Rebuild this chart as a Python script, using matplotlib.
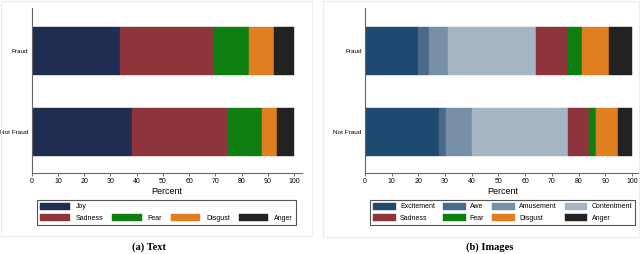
import matplotlib
matplotlib.use('Agg')
import matplotlib.pyplot as plt
import matplotlib.patches as mpatches
import numpy as np

groups = ['Not Fraud', 'Fraud']

# text panel (percent shares, bottom row first)
text_labels = ['Joy', 'Sadness', 'Fear', 'Disgust', 'Anger']
text_colors = ['#1f2d52', '#8e353b', '#107f12', '#e07f22', '#222222']
text_vals = {
    'Joy':     [38.3, 33.6],
    'Sadness': [36.4, 36.0],
    'Fear':    [12.9, 13.3],
    'Disgust': [6.0, 9.3],
    'Anger':   [6.4, 7.8],
}

# image panel
img_labels = ['Excitement', 'Awe', 'Amusement', 'Contentment',
              'Sadness', 'Fear', 'Disgust', 'Anger']
img_colors = ['#1d4a6e', '#4a6a8a', '#7790a8', '#a5b5c4',
              '#8e353b', '#107f12', '#e07f22', '#222222']
img_vals = {
    'Excitement':  [27.7, 19.9],
    'Awe':         [2.6, 4.1],
    'Amusement':   [9.7, 7.0],
    'Contentment': [35.9, 33.2],
    'Sadness':     [8.0, 11.8],
    'Fear':        [2.7, 5.3],
    'Disgust':     [8.0, 10.0],
    'Anger':       [5.4, 8.7],
}

plt.rcParams['font.family'] = ['Liberation Sans', 'DejaVu Sans']

fig = plt.figure(figsize=(6.4, 2.54), dpi=100)
W, H = 640.0, 254.0


def fx(px):
    return px / W


def fy(py):
    return 1 - py / H


# faint panel frames
for x0, x1, y1 in [(1, 312, 236), (323, 639, 237)]:
    fig.patches.append(mpatches.Rectangle((fx(x0), fy(y1)), fx(x1 - x0), (y1 - 1) / H,
                                          transform=fig.transFigure, fill=False,
                                          edgecolor='#ececec', linewidth=0.8))


def draw_panel(ax, labels, colors, vals):
    y = np.arange(len(groups))
    left = np.zeros(len(groups))
    handles = []
    for lab, col in zip(labels, colors):
        v = np.array(vals[lab])
        b = ax.barh(y, v, left=left, height=0.59, color=col, edgecolor=col,
                    linewidth=0.3, label=lab)
        handles.append(b)
        left += v
    ax.set_xlim(0, 103)
    ax.set_ylim(-0.51, 1.53)
    ax.set_yticks(y)
    ax.set_yticklabels(groups, fontsize=4.6)
    ax.set_xticks(np.arange(0, 101, 10))
    ax.tick_params(axis='x', labelsize=5, length=2, width=0.6, color='#555555', pad=1.5)
    ax.tick_params(axis='y', length=0, pad=2.5)
    for s in ['top', 'right']:
        ax.spines[s].set_visible(False)
    for s in ['left', 'bottom']:
        ax.spines[s].set_color('#666666')
        ax.spines[s].set_linewidth(0.8)
    ax.set_xlabel('Percent', fontsize=6.5, labelpad=1)
    return handles


ax1 = fig.add_axes([fx(31.7), fy(173.3), fx(301.9 - 31.7), (173.3 - 8) / H])
h1 = draw_panel(ax1, text_labels, text_colors, text_vals)

ax2 = fig.add_axes([fx(365), fy(173.3), fx(640 - 365), (173.3 - 8) / H])
h2 = draw_panel(ax2, img_labels, img_colors, img_vals)

blank = mpatches.Patch(color='none', label='')
order1 = [h1[0], h1[1], blank, h1[2], blank, h1[3], blank, h1[4]]
labs1 = ['Joy', 'Sadness', '', 'Fear', '', 'Disgust', '', 'Anger']
leg1 = fig.legend(order1, labs1, ncol=4, mode='expand', loc='center',
                  bbox_to_anchor=(fx(34), fy(225.7), fx(299 - 34), 27 / H),
                  fontsize=5, handlelength=4.3, handleheight=1.15, labelspacing=0.5,
                  handletextpad=0.8, borderpad=0.4, fancybox=False,
                  edgecolor='#555555', framealpha=1)
leg1.get_frame().set_linewidth(0.8)

order2 = [h2[0], h2[4], h2[1], h2[5], h2[2], h2[6], h2[3], h2[7]]
labs2 = [img_labels[i] for i in [0, 4, 1, 5, 2, 6, 3, 7]]
leg2 = fig.legend(order2, labs2, ncol=4, mode='expand', loc='center',
                  bbox_to_anchor=(fx(368), fy(225.7), fx(637 - 368), 27 / H),
                  fontsize=5, handlelength=3.3, handleheight=1.15, labelspacing=0.5,
                  handletextpad=0.6, borderpad=0.4, borderaxespad=0.3, fancybox=False,
                  edgecolor='#555555', framealpha=1)
leg2.get_frame().set_linewidth(0.8)

fig.text(fx(149), fy(247), '(a) Text', ha='center', va='center',
         fontsize=7.5, fontweight='bold', family='Liberation Serif')
fig.text(fx(490), fy(247), '(b) Images', ha='center', va='center',
         fontsize=7.5, fontweight='bold', family='Liberation Serif')

fig.savefig('out.png', dpi=100)
